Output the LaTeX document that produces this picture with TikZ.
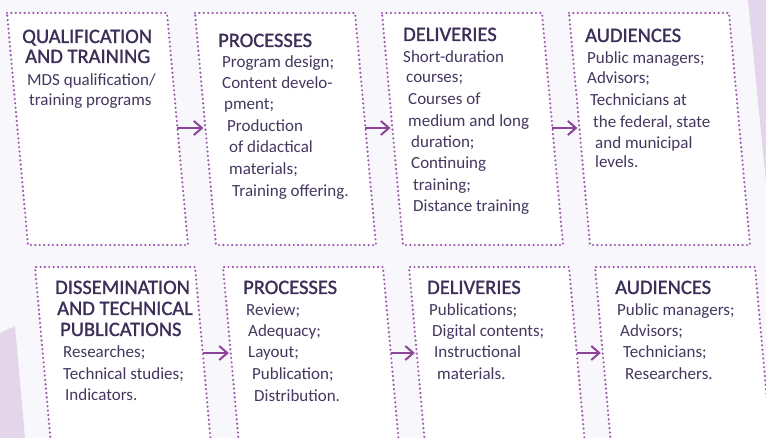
\documentclass[tikz,border=0pt]{standalone}
\usepackage{fontspec}
\setmainfont{Carlito}
\newfontfamily\headfont[FakeBold=1.2]{Carlito}
\usetikzlibrary{arrows.meta}
\definecolor{bg}{HTML}{F8F7FB}
\definecolor{lav}{HTML}{E3D5EA}
\definecolor{dotc}{HTML}{9A56AC}
\definecolor{arrc}{HTML}{8C4499}
\definecolor{txt}{HTML}{3D2E58}
\definecolor{btxt}{HTML}{45375F}
\begin{document}
\begin{tikzpicture}[x=1pt,y=-1pt,
  boxdots/.style={draw=dotc, line width=2.4pt, dash pattern=on 0pt off 4.4pt, line cap=round},
  head/.style={anchor=base west, inner sep=0pt, font=\headfont\fontsize{20.5}{20.5}\selectfont, text=txt},
  body/.style={anchor=base west, inner sep=0pt, font=\fontsize{17}{17}\selectfont, text=btxt},
  flow/.style={draw=arrc, line width=2pt, shorten >=2pt, -{Straight Barb[length=8pt,width=14pt]}}]
\useasboundingbox (0,0) rectangle (766,438);
\clip (0,0) rectangle (766,438);
\fill[bg] (0,0) rectangle (766,438);
% lavender background shapes
\fill[lav] (748,0) -- (766,0) -- (766,183) -- cycle;
\fill[lav] (0,333) -- (15,326) -- (25,438) -- (0,438) -- cycle;
% top row boxes
\foreach \x [count=\i] in {7,195,382,569} {
  \path[boxdots, fill=white] (\x,13) -- ++(160,0) -- ++(21,232) -- ++(-160,0) -- cycle;
  \coordinate (tL\i) at (\x+10.4,128);
  \coordinate (tR\i) at (\x+170.4,128);
}
% bottom row boxes
\foreach \x [count=\i] in {35,223,409,595} {
  \fill[white] (\x,267) -- ++(160,0) -- ++(16.5,183) -- ++(-160,0) -- cycle;
  \draw[boxdots] (\x+16.5,450) -- (\x,267) -- ++(160,0) -- ++(16.5,183);
  \coordinate (bL\i) at (\x+7.8,353);
  \coordinate (bR\i) at (\x+167.8,353);
}
% arrows
\draw[flow] (tR1) -- (tL2);
\draw[flow] (tR2) -- (tL3);
\draw[flow] (tR3) -- (tL4);
\draw[flow] (bR1) -- (bL2);
\draw[flow] (bR2) -- (bL3);
\draw[flow] (bR3) -- (bL4);
% top row texts
\node[head] (a1) at (22,43) {QUALIFICATION};
\node[head] (a2) at (25,63) {AND TRAINING};
\node[body] (a3) at (27,86) {MDS qualification/};
\node[body] (a4) at (29,106) {training programs};

\node[head] (b1) at (218,47) {PROCESSES};
\node[body] (b2) at (222,68) {Program design;};
\node[body] (b3) at (222,89) {Content develo-};
\node[body] (b4) at (224,110) {pment;};
\node[body] (b5) at (227,132) {Production};
\node[body] (b6) at (229,153) {of didactical};
\node[body] (b7) at (229,175) {materials;};
\node[body] (b8) at (232,197) {Training offering.};

\node[head] (c1) at (403,41) {DELIVERIES};
\node[body] (c2) at (403,63) {Short-duration};
\node[body] (c3) at (406,83) {courses;};
\node[body] (c4) at (408,105) {Courses of};
\node[body] (c5) at (408,127) {medium and long};
\node[body] (c6) at (411,148) {duration;};
\node[body] (c7) at (411,169) {Continuing};
\node[body] (c8) at (413,191) {training;};
\node[body] (c9) at (413,212) {Distance training};

\node[head] (d1) at (585,42) {AUDIENCES};
\node[body] (d2) at (587,64) {Public managers;};
\node[body] (d3) at (587,84) {Advisors;};
\node[body] (d4) at (590,106) {Technicians at};
\node[body] (d5) at (593,128) {the federal, state};
\node[body] (d6) at (595,149) {and municipal};
\node[body] (d7) at (595,168) {levels.};
% bottom row texts
\node[head] (e1) at (55,294) {DISSEMINATION};
\node[head] (e2) at (57,315) {AND TECHNICAL};
\node[head] (e3) at (60,336) {PUBLICATIONS};
\node[body] (e4) at (63,358) {Researches;};
\node[body] (e5) at (63,379) {Technical studies;};
\node[body] (e6) at (65,400) {Indicators.};

\node[head] (f1) at (243,294) {PROCESSES};
\node[body] (f2) at (246,316) {Review;};
\node[body] (f3) at (248,337) {Adequacy;};
\node[body] (f4) at (248,358) {Layout;};
\node[body] (f5) at (252,380) {Publication;};
\node[body] (f6) at (254,401) {Distribution.};

\node[head] (g1) at (427,294) {DELIVERIES};
\node[body] (g2) at (429,316) {Publications;};
\node[body] (g3) at (432,337) {Digital contents;};
\node[body] (g4) at (434,358) {Instructional};
\node[body] (g5) at (437,379) {materials.};

\node[head] (h1) at (615,294) {AUDIENCES};
\node[body] (h2) at (617,316) {Public managers;};
\node[body] (h3) at (620,337) {Advisors;};
\node[body] (h4) at (623,358) {Technicians;};
\node[body] (h5) at (625,379) {Researchers.};
\end{tikzpicture}
\end{document}
